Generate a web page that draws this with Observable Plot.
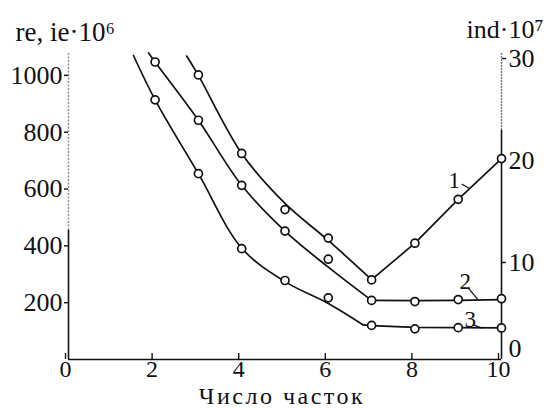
<!DOCTYPE html>
<html><head><meta charset="utf-8">
<script src="https://cdn.jsdelivr.net/npm/d3@7"></script>
<script src="https://cdn.jsdelivr.net/npm/@observablehq/plot@0.6"></script>
<style>html,body{margin:0;padding:0;background:#fff}svg{display:block}svg text{font-family:"Liberation Serif",serif}</style>
</head><body><div id="chart"></div>
<script>
// ---- texts & ticks ----
const xTicks = [0, 2, 4, 6, 8, 10];
const leftTicks = [200, 400, 600, 800, 1000];
const rightTicksLow = [0];
const rightTicks = [10, 20, 30];
const leftTitle = "re, ie·10⁶";
const rightTitle = "ind·10⁷";
const xTitle = "Число часток";

// ---- scale extents ----
const leftMax = 1077;   // re, ie·10^6 at the top of the frame
const rightMax = 30;    // ind·10^7 at the top of the frame

// ---- curve 1 (ind·10^7, right axis): measured points ----
const c1X = [3, 4, 5, 6, 7, 8, 9, 10];
const c1Y = [27.9, 20.2, 14.7, 11.9, 7.8, 11.4, 15.7, 19.7];
// drawn curve 1: smooth falling branch, straight rising branch
const c1FallX = [2.73, 3, 4, 5, 6, 7];
const c1FallY = [29.75, 27.85, 20.2, 15.3, 11.67, 7.83];
const c1RiseX = [7, 8, 9, 10];
const c1RiseY = [7.83, 11.4, 15.7, 19.7];

// ---- curve 2 (left axis): measured points and drawn curve ----
const c2X = [2, 3, 4, 5, 6, 7, 8, 9, 10];
const c2Y = [1047, 842, 613, 452, 353, 208, 204, 211, 214];
const c2FallX = [1.85, 2, 3, 4, 5, 6, 7];
const c2FallY = [1079, 1047, 842, 613, 452, 325, 208];
const c2FlatX = [7, 8, 9, 10];
const c2FlatY = [208, 207, 208, 211];

// ---- curve 3 (left axis): measured points and drawn curve ----
const c3X = [2, 3, 4, 5, 6, 7, 8, 9, 10];
const c3Y = [914, 654, 390, 278, 217, 120, 108, 112, 111];
const c3FallX = [1.5, 2, 3, 4, 5, 6, 6.8];
const c3FallY = [1070, 914, 654, 392, 274, 197, 122];
const c3FlatX = [6.8, 7, 8, 9, 10];
const c3FlatY = [122, 119, 113, 112, 111];

// ---- curve labels (left-axis units) with short leaders ----
const labelText = ["1", "2", "3"];
const labelX = [8.91, 9.16, 9.28];
const labelY = [630, 274, 142];
const leaderX1 = [9.08, 9.24, 9.35];
const leaderY1 = [618, 250, 122];
const leaderX2 = [9.27, 9.45, 9.56];
const leaderY2 = [601, 212, 110];

// ---- axis line styling extents (solid part, left units) ----
const leftSolidTop = 454;
const rightSolidTop = 806;

const k = leftMax / rightMax;
const pts = (xs, ys, s = 1) => xs.map((x, i) => ({x, y: ys[i] * s}));

const FONT = "Liberation Serif";
const FS = 26;
const INK = "#111";

const lineOpts = {x: "x", y: "y", stroke: INK, strokeWidth: 1.7};
const dotOpts = {x: "x", y: "y", r: 4, fill: "#fff", stroke: INK, strokeWidth: 1.7};
const axOpts = {label: null, fontSize: FS, fontFamily: FONT, strokeWidth: 1.4};

const chart = Plot.plot({
  width: 549,
  height: 408,
  marginLeft: 68,
  marginRight: 48,
  marginTop: 53,
  marginBottom: 49,
  style: {fontFamily: FONT, fontSize: FS + "px", background: "#fff", color: INK},
  x: {domain: [0, 10]},
  y: {domain: [0, leftMax]},
  marks: [
    // axis lines
    Plot.ruleY([0], {x1: 0, x2: 10, stroke: INK, strokeWidth: 1.6}),
    Plot.ruleX([0], {y1: 0, y2: leftSolidTop, stroke: INK, strokeWidth: 1.6}),
    Plot.ruleX([0], {y1: leftSolidTop, y2: leftMax, stroke: "#888", strokeWidth: 1.4, strokeDasharray: "2 1.5"}),
    Plot.ruleX([10], {y1: 0, y2: rightSolidTop, stroke: INK, strokeWidth: 1.6}),
    Plot.ruleX([10], {y1: rightSolidTop, y2: leftMax, stroke: "#777", strokeWidth: 1.4, strokeDasharray: "2 1"}),
    // axes
    Plot.axisX(xTicks, {...axOpts, fontSize: 24, tickSize: -6, tickPadding: 6, dx: -3, tickFormat: d => String(d)}),
    Plot.axisY(leftTicks, {...axOpts, anchor: "left", tickSize: 4, tickPadding: 2, tickFormat: d => String(d)}),
    Plot.axisY(rightTicks.map(t => t * k), {...axOpts, anchor: "right", tickSize: 4, tickPadding: 3, dy: 5,
      tickFormat: d => String(Math.round(d / k))}),
    Plot.axisY(rightTicksLow.map(t => t * k), {...axOpts, anchor: "right", tickSize: 0, tickPadding: 7, dy: -11,
      tickFormat: d => String(Math.round(d / k))}),
    // titles
    Plot.text([leftTitle], {frameAnchor: "top-left", textAnchor: "start", lineAnchor: "bottom", dx: -53, dy: -13, fontSize: 27, fontFamily: FONT}),
    Plot.text([rightTitle], {frameAnchor: "top-right", textAnchor: "start", lineAnchor: "bottom", dx: -35, dy: -16, fontSize: 26, fontFamily: FONT}),
    Plot.text([xTitle], {frameAnchor: "bottom", textAnchor: "middle", lineAnchor: "bottom", dx: -3, dy: 44, fontSize: 24, fontFamily: FONT}),
    // curves
    Plot.line(pts(c1FallX, c1FallY, k), {...lineOpts, curve: "catmull-rom"}),
    Plot.line(pts(c1RiseX, c1RiseY, k), lineOpts),
    Plot.line(pts(c2FallX, c2FallY), {...lineOpts, curve: "catmull-rom"}),
    Plot.line(pts(c2FlatX, c2FlatY), lineOpts),
    Plot.line(pts(c3FallX, c3FallY), {...lineOpts, curve: "catmull-rom"}),
    Plot.line(pts(c3FlatX, c3FlatY), lineOpts),
    // markers
    Plot.dot(pts(c1X, c1Y, k), dotOpts),
    Plot.dot(pts(c2X, c2Y), dotOpts),
    Plot.dot(pts(c3X, c3Y), dotOpts),
    // curve labels + leaders
    Plot.link(labelText.map((t, i) => i), {x1: i => leaderX1[i], y1: i => leaderY1[i], x2: i => leaderX2[i], y2: i => leaderY2[i], stroke: INK, strokeWidth: 1.2}),
    Plot.text(labelText.map((t, i) => i), {x: i => labelX[i], y: i => labelY[i], text: i => labelText[i], fontSize: 23, fontFamily: FONT, fill: INK})
  ]
});
// the scanned x-axis title is set wide
d3.select(chart).selectAll("text").filter(function () { return this.textContent === xTitle; })
  .style("letter-spacing", "2.5px");
document.getElementById("chart").appendChild(chart);
</script>
</body></html>
